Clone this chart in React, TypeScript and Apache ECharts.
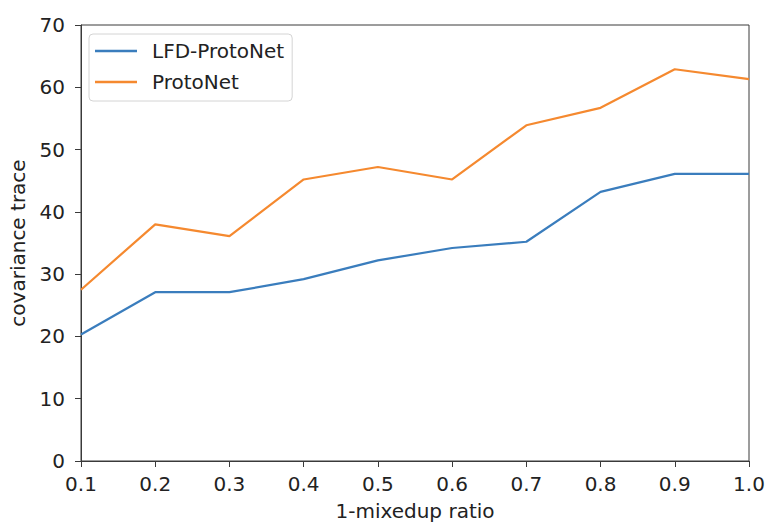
import React, { useEffect, useRef } from "react";
import * as echarts from "echarts";

const xCategories = ["0.1", "0.2", "0.3", "0.4", "0.5", "0.6", "0.7", "0.8", "0.9", "1.0"];
const lfdProtoNet = [20.3, 27.1, 27.1, 29.2, 32.2, 34.2, 35.2, 43.2, 46.1, 46.1];
const protoNet = [27.5, 38.0, 36.1, 45.2, 47.2, 45.2, 53.9, 56.7, 62.9, 61.3];
const yMin = 0;
const yMax = 70;
const yInterval = 10;

const FONT = "DejaVu Sans";
const TEXT = "#222222";
const AXIS = "#3a3a3a";
const FS = 20;

export default function App() {
  const ref = useRef<HTMLDivElement>(null);
  useEffect(() => {
    if (!ref.current) return;
    const chart = echarts.init(ref.current, undefined, { renderer: "svg" });
    chart.setOption({
      animation: false,
      backgroundColor: "#ffffff",
      textStyle: { fontFamily: FONT },
      grid: {
        left: 79,
        right: 21,
        top: 25,
        bottom: 69,
        containLabel: false,
        show: true,
        borderColor: AXIS,
        borderWidth: 1,
        backgroundColor: "transparent",
      },
      legend: {
        orient: "vertical",
        left: 89,
        top: 34,
        padding: [7, 8, 9, 6],
        itemGap: 11,
        itemWidth: 42,
        itemHeight: 2.5,
        icon: "rect",
        borderColor: "#d4d4d4",
        borderWidth: 1,
        borderRadius: 4,
        backgroundColor: "rgba(255,255,255,0.8)",
        textStyle: {
          fontFamily: FONT,
          fontSize: FS,
          color: TEXT,
          padding: [0, 0, 0, 10],
        },
        data: ["LFD-ProtoNet", "ProtoNet"],
      },
      xAxis: {
        type: "category",
        data: xCategories,
        boundaryGap: false,
        name: "1-mixedup ratio",
        nameLocation: "middle",
        nameGap: 40,
        nameTextStyle: { fontFamily: FONT, fontSize: FS, color: TEXT },
        axisLine: { show: true, lineStyle: { color: AXIS, width: 1 } },
        axisTick: { show: true, length: 6, alignWithLabel: true, interval: 0, lineStyle: { color: AXIS } },
        axisLabel: { interval: 0, fontFamily: FONT, fontSize: FS, color: TEXT, margin: 13 },
        splitLine: { show: false },
      },
      yAxis: {
        type: "value",
        min: yMin,
        max: yMax,
        interval: yInterval,
        name: "covariance trace",
        nameLocation: "middle",
        nameRotate: 90,
        nameGap: 53,
        nameTextStyle: { fontFamily: FONT, fontSize: FS, color: TEXT },
        axisLine: { show: true, lineStyle: { color: AXIS, width: 1 } },
        axisTick: { show: true, length: 6, lineStyle: { color: AXIS } },
        axisLabel: { fontFamily: FONT, fontSize: FS, color: TEXT, margin: 16 },
        splitLine: { show: false },
      },
      series: [
        {
          name: "LFD-ProtoNet",
          type: "line",
          data: lfdProtoNet,
          symbol: "none",
          showSymbol: false,
          itemStyle: { color: "#3a7dbd" },
          lineStyle: { color: "#3a7dbd", width: 2.2 },
        },
        {
          name: "ProtoNet",
          type: "line",
          data: protoNet,
          symbol: "none",
          showSymbol: false,
          itemStyle: { color: "#f5892f" },
          lineStyle: { color: "#f5892f", width: 2.2 },
        },
      ],
    });
    return () => chart.dispose();
  }, []);
  return (
    <div
      ref={ref}
      style={{ position: "fixed", left: 0, top: 0, width: 770, height: 530 }}
    />
  );
}
